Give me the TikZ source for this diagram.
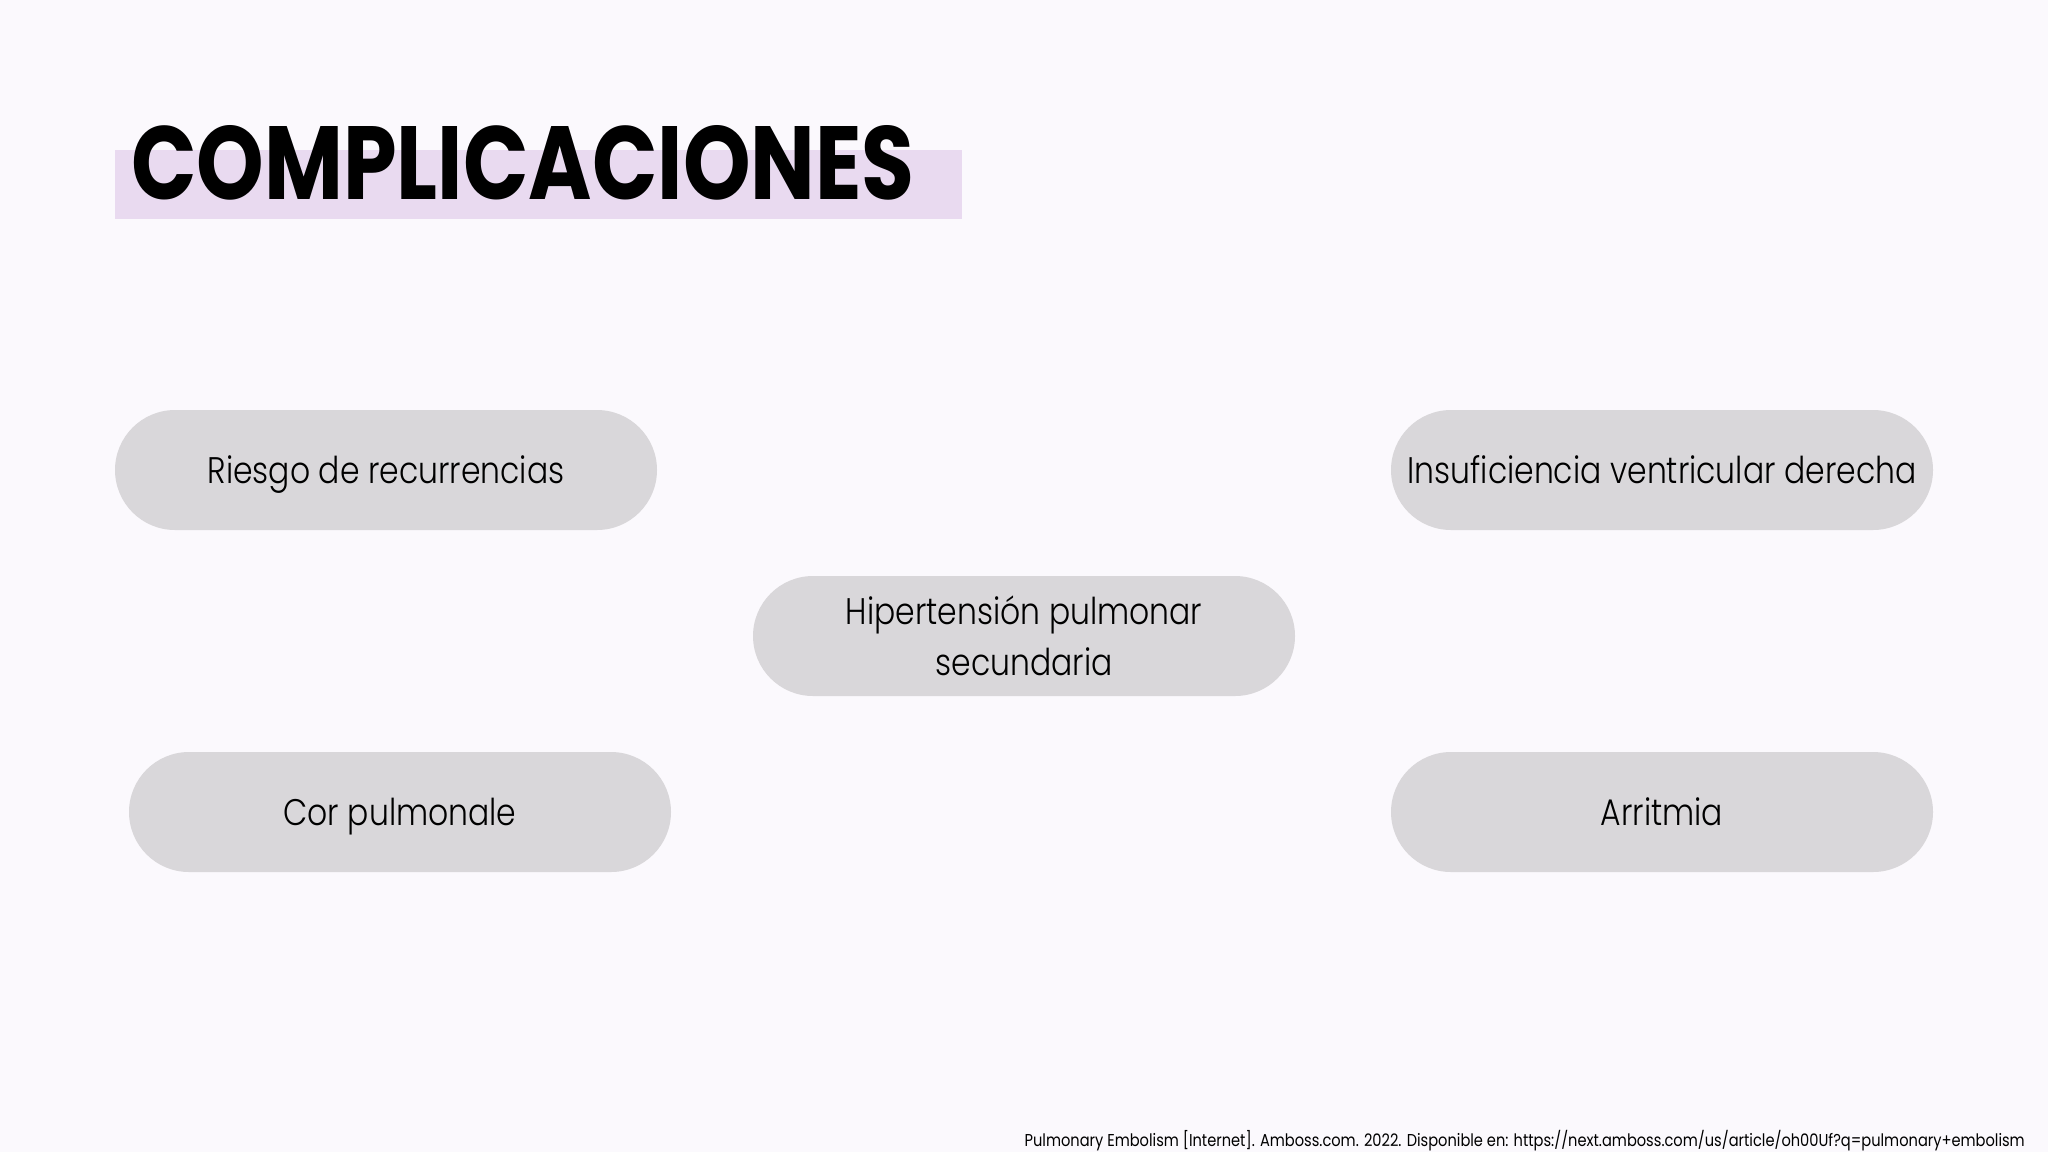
\documentclass[tikz,border=0pt]{standalone}
\usepackage{fontspec}
\setmainfont{Poppins}[UprightFont=* Light, FakeStretch=0.85]
\newfontfamily\titlefont{Poppins}
\newfontfamily\footfont{Poppins}[FakeStretch=0.85]
\definecolor{bgc}{HTML}{FBF9FD}
\definecolor{pillc}{HTML}{D9D7DA}
\definecolor{hlc}{HTML}{E9DAF0}
\tikzset{
  pill/.style={fill=pillc, draw=none, rounded corners=60pt, minimum width=542pt, minimum height=120pt, inner sep=0pt, align=center, font=\fontsize{37}{51}\selectfont, text=black},
  oneline/.style={text height=26pt, text depth=0pt},
}
\begin{document}
\begin{tikzpicture}[x=1pt,y=-1pt]
\fill[bgc] (0,0) rectangle (2048,1152);
\useasboundingbox (0,0) rectangle (2048,1152);
\fill[hlc] (115,150) rectangle (962,219);
\node[anchor=base west, inner sep=0pt] (title) at (131,199) {\resizebox{783pt}{74pt}{\titlefont\bfseries COMPLICACIONES}};
\node[pill, oneline] (riesgo) at (386,470) {Riesgo de recurrencias};
\node[pill, oneline] (insuf) at (1662,470) {Insuficiencia ventricular derecha};
\node[pill] (hiper) at (1024,636) {Hipertensión pulmonar\\secundaria};
\node[pill, oneline] (cor) at (400,812) {Cor pulmonale};
\node[pill, oneline] (arr) at (1662,812) {Arritmia};
\node[anchor=east, inner sep=0pt, font=\footfont\fontsize{17.2}{19}\selectfont] (ref) at (2025,1141) {Pulmonary Embolism [Internet]. Amboss.com. 2022. Disponible en: https://next.amboss.com/us/article/oh00Uf?q=pulmonary+embolism};
\end{tikzpicture}
\end{document}
